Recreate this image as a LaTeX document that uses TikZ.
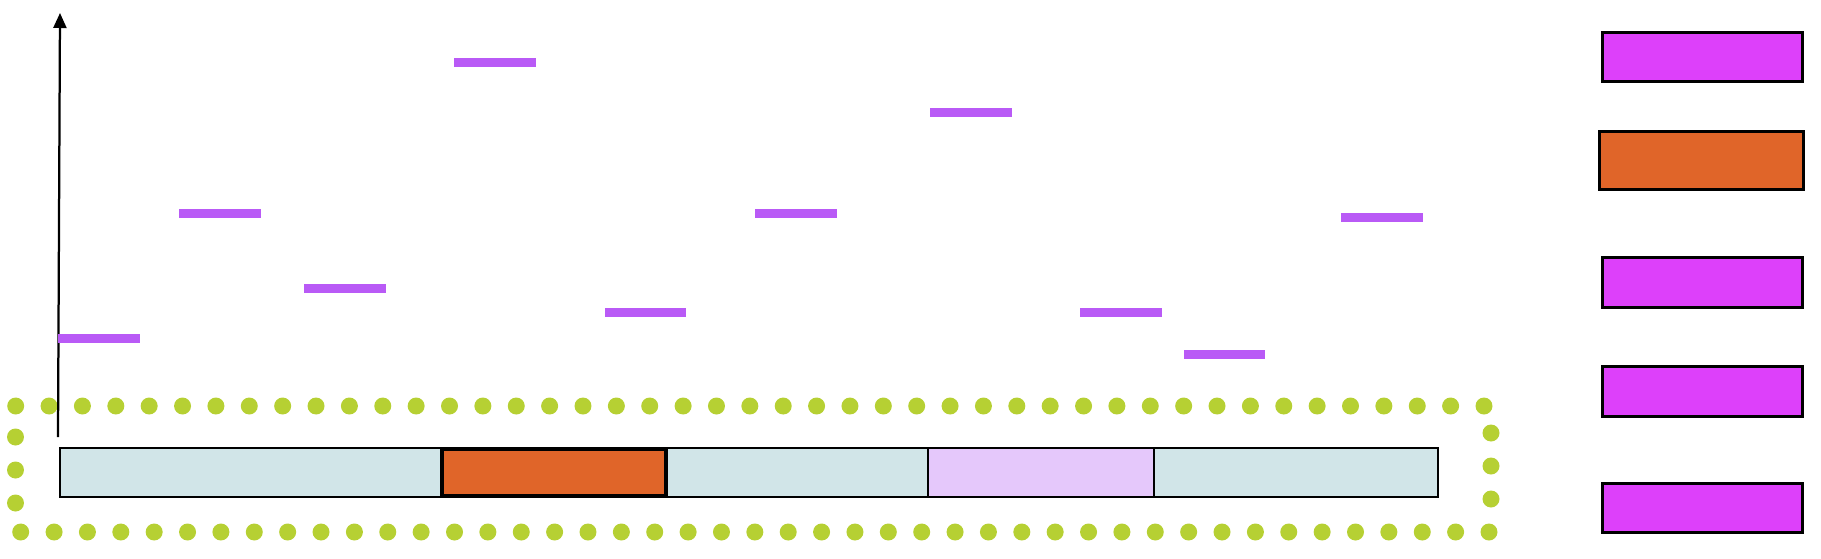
\documentclass[tikz,border=0pt]{standalone}
\usepackage{tikz}
\usetikzlibrary{arrows.meta}

\definecolor{lightteal}{HTML}{D1E5E8}
\definecolor{burntorange}{HTML}{E06529}
\definecolor{lilac}{HTML}{E5C8FB}
\definecolor{magentabox}{HTML}{DD40FA}
\definecolor{violetbar}{HTML}{B95AF6}
\definecolor{limedot}{HTML}{B6D033}

\begin{document}
\begin{tikzpicture}[x=0.02cm,y=-0.02cm,
	cell/.style={draw,rectangle,inner sep=0,outer sep=0,line width=0.045cm,minimum height=0.98cm},
	key/.style={draw,rectangle,inner sep=0,outer sep=0,line width=0.06cm,fill=magentabox,minimum width=4cm,minimum height=1cm},
	level/.style={violetbar,line width=0.18cm},
	dot/.style={limedot}]
	\useasboundingbox (0,0) rectangle (1821,558);
	% dotted frame
	\foreach \i in {0,...,44} {
		\fill[dot] ({15.7+33.37*\i},406) circle[radius=0.17cm];
		\fill[dot] ({20.7+33.37*\i},532) circle[radius=0.17cm];
	}
	\foreach \y in {437,470,503} \fill[dot] (15.5,\y) circle[radius=0.17cm];
	\foreach \y in {433,466,499} \fill[dot] (1491,\y) circle[radius=0.17cm];
	% axis
	\coordinate (base) at (58,437);
	\coordinate (tip) at (60,13);
	\draw[line width=0.045cm,-{Triangle[length=0.3cm,width=0.26cm]}] (base) -- (tip);
	% levels
	\draw[level] (58,338) -- (140,338);
	\draw[level] (179,213) -- (261,213);
	\draw[level] (304,288) -- (386,288);
	\draw[level] (454,62) -- (536,62);
	\draw[level] (605,312) -- (686,312);
	\draw[level] (755,213) -- (837,213);
	\draw[level] (930,112) -- (1012,112);
	\draw[level] (1080,312) -- (1162,312);
	\draw[level] (1184,354) -- (1265,354);
	\draw[level] (1341,217.5) -- (1423,217.5);
	% bar
	\node[cell,fill=lightteal,minimum width=7.64cm] (slot1) at (251,472.5) {};
	\node[cell,fill=lightteal,minimum width=5.24cm] (slot3) at (797,472.5) {};
	\node[cell,fill=lilac,minimum width=4.52cm] (slot4) at (1041,472.5) {};
	\node[cell,fill=lightteal,minimum width=5.68cm] (slot5) at (1296,472.5) {};
	\node[cell,fill=burntorange,line width=0.075cm,minimum width=4.48cm,minimum height=0.94cm] (slot2) at (554,472.5) {};
	% legend
	\node[key] (key1) at (1702,57) {};
	\node[key,fill=burntorange,minimum width=4.08cm,minimum height=1.18cm] (key2) at (1701,160.5) {};
	\node[key] (key3) at (1702,282) {};
	\node[key] (key4) at (1702,391) {};
	\node[key,minimum height=0.98cm] (key5) at (1702,507.5) {};
\end{tikzpicture}
\end{document}
